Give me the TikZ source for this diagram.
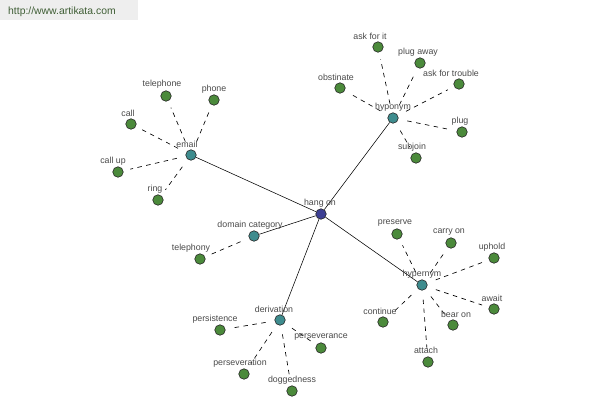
\documentclass[tikz,border=0pt]{standalone}
\usepackage{fontspec}
\setmainfont{Liberation Sans}
\begin{document}
\begin{tikzpicture}[x=1pt,y=-1pt,
  dot/.style={circle,draw=black!85,line width=0.6pt,minimum size=10.5pt,inner sep=0pt},
  leaf/.style={dot,fill=leafc},
  hub/.style={dot,fill=hubc},
  center/.style={dot,fill=centc},
  lbl/.style={text=lblc,font=\fontsize{8.8}{9}\selectfont,inner sep=0pt},
  rel/.style={line width=0.55pt},
  syn/.style={line width=0.65pt,dash pattern=on 4.5pt off 4.5pt,shorten <=9pt,shorten >=7pt}]
\definecolor{leafc}{HTML}{4B8A3B}
\definecolor{hubc}{HTML}{3E8C8E}
\definecolor{centc}{HTML}{3D3F94}
\definecolor{lblc}{HTML}{4A4A4A}
\definecolor{wmbg}{HTML}{EEEEEE}
\definecolor{wmtxt}{HTML}{3F5E35}
\useasboundingbox (0,0) rectangle (600,400);
\fill[white] (0,0) rectangle (600,400);
\fill[wmbg] (0,0) rectangle (138,20);
\node[anchor=base west,text=wmtxt,font=\fontsize{10.4}{12}\selectfont,inner sep=0pt] (wm) at (8,14.5) {http://www.artikata.com};

% hubs
\node[center] (hang) at (321,214) {};
\node[hub] (email) at (191,155) {};
\node[hub] (hypo) at (393,118) {};
\node[hub] (hyper) at (422,285) {};
\node[hub] (dom) at (254,236) {};
\node[hub] (der) at (280,320) {};

% leaves
\node[leaf] (telephone) at (166,96) {};
\node[leaf] (phone) at (214,100) {};
\node[leaf] (call) at (131,124) {};
\node[leaf] (callup) at (118,172) {};
\node[leaf] (ring) at (158,200) {};

\node[leaf] (askit) at (378,47) {};
\node[leaf] (plugaway) at (420,63) {};
\node[leaf] (asktrouble) at (459,84) {};
\node[leaf] (obstinate) at (340,88) {};
\node[leaf] (plug) at (462,132) {};
\node[leaf] (subjoin) at (416,158) {};

\node[leaf] (preserve) at (397,234) {};
\node[leaf] (carryon) at (451,243) {};
\node[leaf] (uphold) at (494,258) {};
\node[leaf] (await) at (494,309) {};
\node[leaf] (bearon) at (453,325) {};
\node[leaf] (continue) at (383,322) {};
\node[leaf] (attach) at (428,362) {};

\node[leaf] (telephony) at (200,259) {};

\node[leaf] (persistence) at (220,330) {};
\node[leaf] (perseverance) at (321,348) {};
\node[leaf] (perseveration) at (244,374) {};
\node[leaf] (doggedness) at (292,391) {};

% solid relations
\draw[rel] (hang) -- (email);
\draw[rel] (hang) -- (hypo);
\draw[rel] (hang) -- (hyper);
\draw[rel] (hang) -- (dom);
\draw[rel] (hang) -- (der);

% dashed synonym links
\foreach \a in {telephone,phone,call,callup,ring} \draw[syn] (email) -- (\a);
\foreach \a in {askit,plugaway,asktrouble,obstinate,plug,subjoin} \draw[syn] (hypo) -- (\a);
\foreach \a in {preserve,carryon,uphold,await,bearon,continue,attach} \draw[syn] (hyper) -- (\a);
\draw[syn] (dom) -- (telephony);
\foreach \a in {persistence,perseverance,perseveration,doggedness} \draw[syn] (der) -- (\a);

% labels
\node[lbl] (Lhang) at (320,203) {hang on};
\node[lbl] (Lemail) at (187,144) {email};
\node[lbl] (Lhypo) at (393,107) {hyponym};
\node[lbl] (Lhyper) at (422,274) {hypernym};
\node[lbl] (Ldom) at (250,225) {domain category};
\node[lbl] (Lder) at (274,309) {derivation};

\node[lbl] (Ltelephone) at (162,84) {telephone};
\node[lbl] (Lphone) at (214,89) {phone};
\node[lbl] (Lcall) at (128,113) {call};
\node[lbl] (Lcallup) at (113,161) {call up};
\node[lbl] (Lring) at (155,189) {ring};

\node[lbl] (Laskit) at (370,36) {ask for it};
\node[lbl] (Lplugaway) at (418,52) {plug away};
\node[lbl] (Lasktrouble) at (451,73) {ask for trouble};
\node[lbl] (Lobstinate) at (336,77) {obstinate};
\node[lbl] (Lplug) at (460,121) {plug};
\node[lbl] (Lsubjoin) at (412,147) {subjoin};

\node[lbl] (Lpreserve) at (395,223) {preserve};
\node[lbl] (Lcarryon) at (449,232) {carry on};
\node[lbl] (Luphold) at (492,247) {uphold};
\node[lbl] (Lawait) at (492,298) {await};
\node[lbl] (Lbearon) at (456,314) {bear on};
\node[lbl] (Lcontinue) at (380,311) {continue};
\node[lbl] (Lattach) at (426,350) {attach};

\node[lbl] (Ltelephony) at (191,248) {telephony};

\node[lbl] (Lpersistence) at (215,319) {persistence};
\node[lbl] (Lperseverance) at (321,337) {perseverance};
\node[lbl] (Lperseveration) at (240,363) {perseveration};
\node[lbl] (Ldoggedness) at (292,380) {doggedness};
\end{tikzpicture}
\end{document}
